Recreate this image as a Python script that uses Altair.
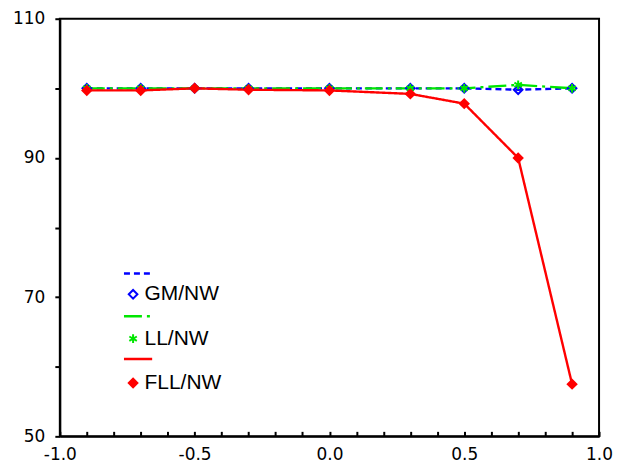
import altair as alt
import pandas as pd

x_vals = [-0.9, -0.7, -0.5, -0.3, 0.0, 0.3, 0.5, 0.7, 0.9]
gm_nw = [100.0, 100.0, 100.0, 100.0, 100.0, 100.0, 100.0, 99.8, 100.0]
ll_nw = [100.0, 100.0, 100.0, 100.0, 100.0, 100.0, 100.0, 100.5, 100.0]
fll_nw = [99.7, 99.7, 100.0, 99.8, 99.7, 99.2, 97.8, 90.0, 57.5]

series_names = ["GM/NW", "LL/NW", "FLL/NW"]
line_keys = ["GM/NW line", "LL/NW line", "FLL/NW line"]
colors = ["#0000ff", "#00e600", "#ff0000"]
y_ticks = [50, 60, 70, 80, 90, 100, 110]
x_ticks = [round(-1.0 + 0.1 * i, 1) for i in range(21)]
x_labels = [-1.0, -0.5, 0.0, 0.5, 1.0]

rows = []
for name, lk, vals in zip(series_names, line_keys, [gm_nw, ll_nw, fll_nw]):
    for xv, yv in zip(x_vals, vals):
        rows.append({"x": xv, "y": yv, "series": name, "lkey": lk})
df = pd.DataFrame(rows)

AXIS_FONT = "DejaVu Sans"
LEG_FONT = "Liberation Sans"
asterisk = "M0,-1L0,1M-0.87,-0.5L0.87,0.5M-0.87,0.5L0.87,-0.5"

xscale = alt.Scale(domain=[-1.0, 1.0], nice=False)
yscale = alt.Scale(domain=[50, 110], nice=False)

x_main = alt.X("x:Q", scale=xscale, title=None,
               axis=alt.Axis(orient="bottom", values=x_labels, format=".1f", ticks=False, grid=False,
                             labelExpr="replace(datum.label, '\u2212', '-')",
                             domainColor="black", domainWidth=2,
                             labelFont=AXIS_FONT, labelFontSize=17, labelColor="black",
                             labelPadding=10, labelFlush=False))
x_ticks_axis = alt.X("x:Q", scale=xscale, title=None,
                     axis=alt.Axis(orient="bottom", values=x_ticks, labels=False, domain=False, grid=False,
                                   tickSize=5, tickWidth=2, tickColor="black", offset=-5))
y_enc = alt.Y("y:Q", scale=yscale, title=None,
              axis=alt.Axis(values=y_ticks, grid=False,
                            labelExpr="datum.value % 20 == 10 ? datum.label : ''",
                            tickSize=5, tickWidth=2, tickColor="black",
                            domainColor="black", domainWidth=2,
                            labelFont=AXIS_FONT, labelFontSize=17, labelColor="black",
                            labelPadding=10))

legend_lines = alt.Legend(title=None, orient="none", legendX=63, legendY=240,
                          symbolType="stroke", symbolSize=800, symbolStrokeWidth=2.5,
                          labelExpr="''", labelFontSize=1, labelOffset=0,
                          rowPadding=22, padding=0)
legend_points = alt.Legend(title=None, orient="none", legendX=63, legendY=266,
                           symbolSize=75, symbolStrokeWidth=2,
                           labelFont=LEG_FONT, labelFontSize=21, labelColor="black",
                           labelFontWeight="normal",
                           labelOffset=1, rowPadding=22.5, padding=0)

lines = alt.Chart(df).mark_line(strokeWidth=2.4).encode(
    x=x_main,
    y=y_enc,
    color=alt.Color("lkey:N", scale=alt.Scale(domain=line_keys, range=colors), legend=legend_lines),
    strokeDash=alt.StrokeDash("lkey:N", scale=alt.Scale(domain=line_keys,
                                                        range=[[6, 4], [18, 5, 3, 5], [1, 0]]),
                              legend=legend_lines),
    order=alt.Order("x:Q"),
)

points = alt.Chart(df).mark_point(filled=False, size=75, strokeWidth=2, opacity=1).encode(
    x=x_ticks_axis,
    y=y_enc,
    color=alt.Color("series:N", scale=alt.Scale(domain=series_names, range=colors), legend=legend_points),
    shape=alt.Shape("series:N", scale=alt.Scale(domain=series_names, range=["diamond", asterisk, "diamond"]),
                    legend=legend_points),
    fill=alt.Fill("series:N", scale=alt.Scale(domain=series_names, range=["transparent", "#00e600", "#ff0000"]),
                  legend=legend_points),
)

chart = alt.layer(lines, points).resolve_scale(
    color="independent", strokeDash="independent", shape="independent", fill="independent"
).resolve_legend(
    color="independent", strokeDash="independent", shape="independent", fill="independent"
).resolve_axis(
    x="independent"
).properties(
    width=541, height=419,
    autosize=alt.AutoSizeParams(type="none"),
    padding={"left": 52, "top": 10, "right": 15, "bottom": 30},
    background="white",
).configure_view(
    stroke="black", strokeWidth=2
)

chart.save("out.html", embed_options={"renderer": "svg", "actions": False})
